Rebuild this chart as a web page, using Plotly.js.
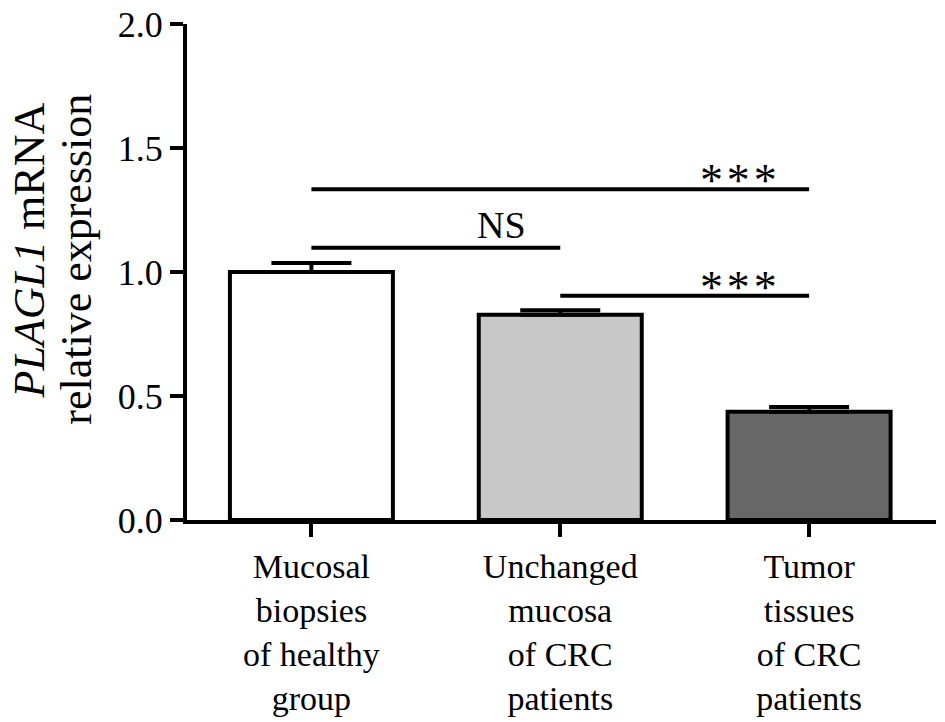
<!DOCTYPE html>
<html>
<head>
<meta charset="utf-8">
<script src="https://cdn.plot.ly/plotly-3.0.1.min.js"></script>
<style>html,body{margin:0;padding:0;background:#fff;}#chart{width:945px;height:722px;}</style>
</head>
<body>
<div id="chart"></div>
<script>
// ---- data ----
var categories = ["Mucosal<br>biopsies<br>of healthy<br>group", "Unchanged<br>mucosa<br>of CRC<br>patients", "Tumor<br>tissues<br>of CRC<br>patients"];
var values = [1.0, 0.828, 0.436];
var errorsUp = [0.036, 0.018, 0.020];
var barColors = ["#ffffff", "#c8c8c8", "#686868"];
var yTickVals = [0.0, 0.5, 1.0, 1.5, 2.0];
var yTickText = ["0.0", "0.5", "1.0", "1.5", "2.0"];
var yTitleLines = ["<i>PLAGL1</i> mRNA", "relative expression"];
// significance comparisons (category index from / to, bracket height, label)
var sigFrom = [0, 0, 1];
var sigTo = [2, 1, 2];
var sigY = [1.334, 1.098, 0.904];
var sigLabel = ["*\u200a*\u200a*", "NS", "*\u200a*\u200a*"];

var xIdx = categories.map(function(_, i){ return i; });
var serif = "Liberation Serif, Times New Roman, serif";

var trace = {
  type: "bar",
  x: xIdx,
  y: values,
  width: 0.655,
  marker: {color: barColors, line: {color: "#000", width: 4}},
  error_y: {type: "data", symmetric: false, array: errorsUp, arrayminus: values.map(function(){return 0;}),
            color: "#000", thickness: 4, width: 40},
  hoverinfo: "none"
};

var shapes = [];
var annotations = [];
for (var i = 0; i < sigFrom.length; i++) {
  shapes.push({type: "line", xref: "x", yref: "y", x0: sigFrom[i], x1: sigTo[i], y0: sigY[i], y1: sigY[i],
               line: {color: "#000", width: 4}});
  var isNS = sigLabel[i] === "NS";
  annotations.push({xref: "x", yref: "y", x: sigTo[i], y: sigY[i], xanchor: "right", yanchor: "bottom",
                    xshift: isNS ? -32 : -30, yshift: isNS ? 0 : -19, showarrow: false, text: sigLabel[i],
                    font: {family: serif, size: isNS ? 38 : 46, color: "#000"}});
}
// y-axis title, two lines placed individually (tight line spacing as in the reference)
var titleX = [-0.21, -0.148];
var titleY = [0.543, 0.525];
for (var j = 0; j < yTitleLines.length; j++) {
  annotations.push({xref: "paper", yref: "paper", x: titleX[j], y: titleY[j], xanchor: "center", yanchor: "middle",
                    textangle: -90, showarrow: false, text: yTitleLines[j],
                    font: {family: serif, size: 44, color: "#000"}});
}

var layout = {
  width: 945, height: 722,
  margin: {l: 187, r: 9, t: 24, b: 201.5},
  paper_bgcolor: "#fff", plot_bgcolor: "#fff",
  showlegend: false,
  font: {family: serif, color: "#000"},
  xaxis: {
    range: [-0.5, 2.51], tickmode: "array", tickvals: xIdx, ticktext: categories,
    showline: true, linecolor: "#000", linewidth: 4, ticks: "outside", ticklen: 13, tickwidth: 4, tickcolor: "#000",
    showgrid: false, zeroline: false, tickfont: {size: 34, color: "#000"}, fixedrange: true
  },
  yaxis: {
    range: [0, 2], tickmode: "array", tickvals: yTickVals, ticktext: yTickText,
    showline: true, linecolor: "#000", linewidth: 4, ticks: "outside", ticklen: 13, tickwidth: 4, tickcolor: "#000",
    showgrid: false, zeroline: false, tickfont: {size: 36, color: "#000"}, fixedrange: true
  },
  shapes: shapes,
  annotations: annotations
};

Plotly.newPlot("chart", [trace], layout, {displayModeBar: false, staticPlot: true});
</script>
</body>
</html>
